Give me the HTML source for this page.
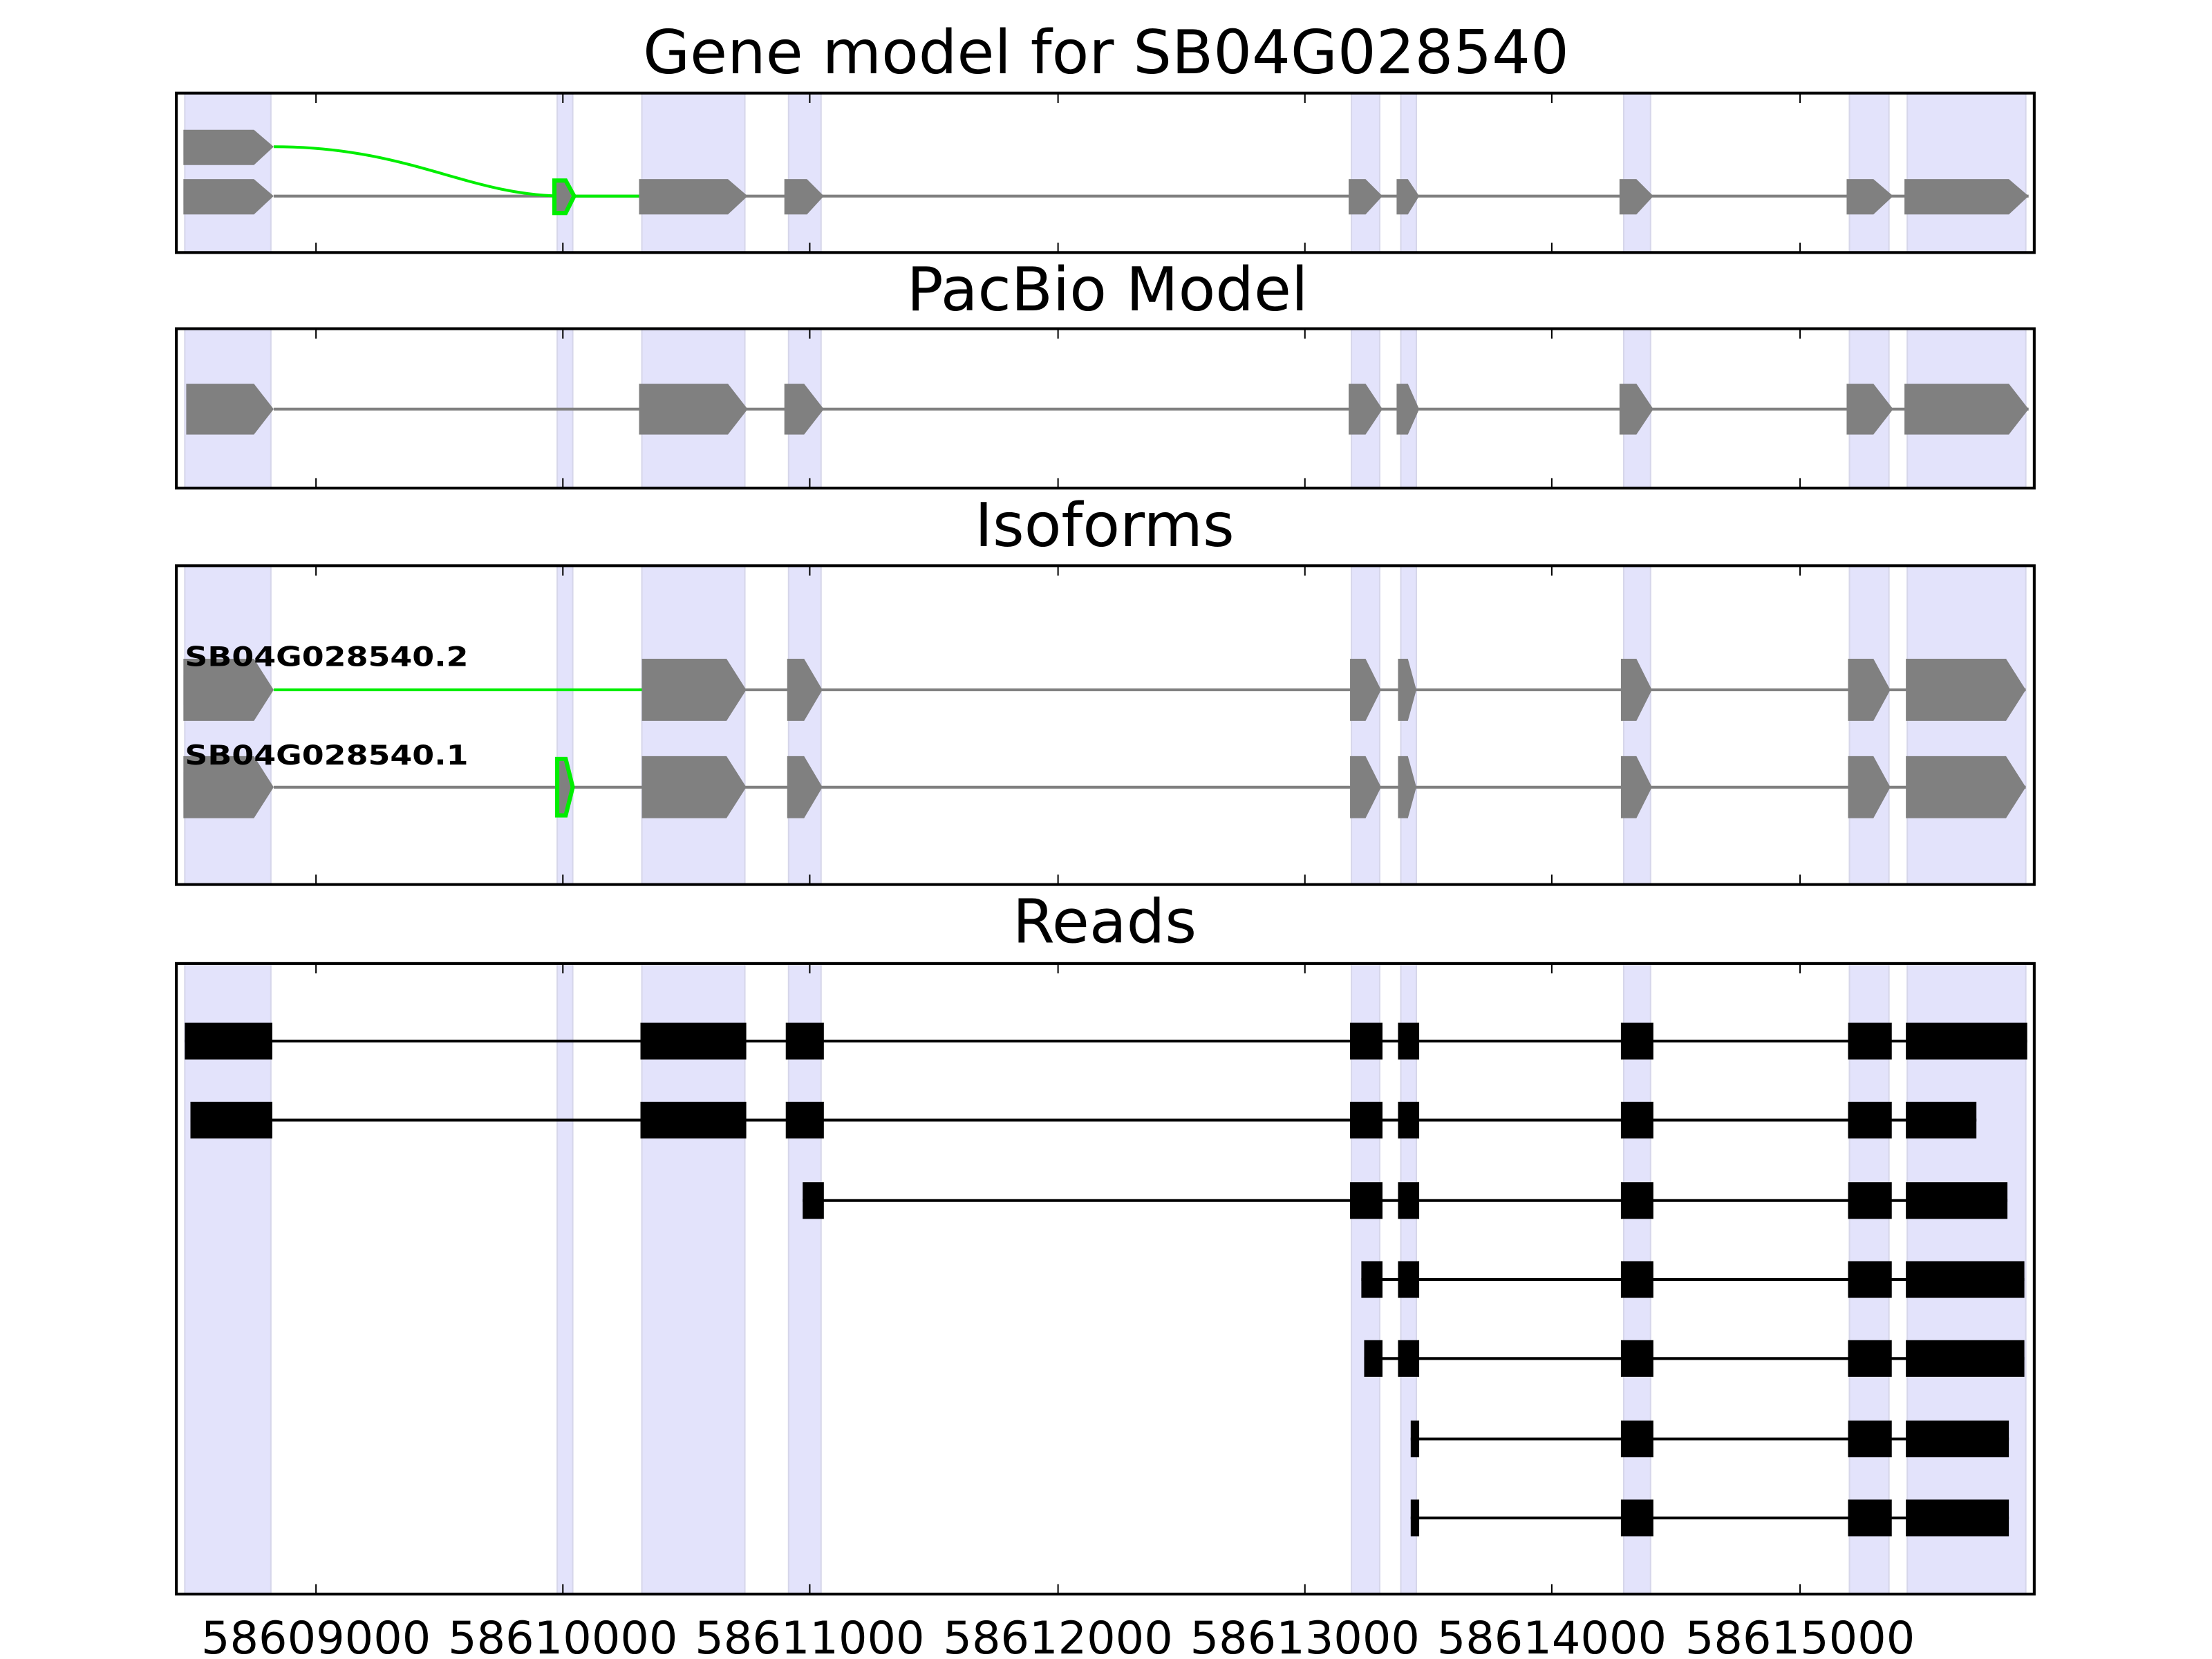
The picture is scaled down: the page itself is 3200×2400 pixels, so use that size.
<!DOCTYPE html>
<html><head><meta charset="utf-8"><style>
html,body{margin:0;padding:0;background:#fff;}
svg{display:block;}
text{font-family:"DejaVu Sans","Liberation Sans",sans-serif;}
</style></head><body>
<svg width="3200" height="2400" viewBox="0 0 1568 1176" preserveAspectRatio="none" xmlns="http://www.w3.org/2000/svg">
<defs>
<g id="shade">
<rect x="131" width="61" height="1200"/><rect x="395" width="11" height="1200"/>
<rect x="455" width="73" height="1200"/><rect x="559" width="23" height="1200"/>
<rect x="958" width="20" height="1200"/><rect x="993" width="11" height="1200"/>
<rect x="1151" width="19" height="1200"/><rect x="1311" width="28" height="1200"/>
<rect x="1352" width="84" height="1200"/>
</g>
<clipPath id="c1"><rect x="125" y="66" width="1317" height="113"/></clipPath>
<clipPath id="c2"><rect x="125" y="233" width="1317" height="113"/></clipPath>
<clipPath id="c3"><rect x="125" y="401" width="1317" height="226"/></clipPath>
<clipPath id="c4"><rect x="125" y="683" width="1317" height="447"/></clipPath>
<g id="ticks" stroke="#000" stroke-width="1">
<line x1="224" y1="0" x2="224" y2="7"/><line x1="399" y1="0" x2="399" y2="7"/>
<line x1="574" y1="0" x2="574" y2="7"/><line x1="750" y1="0" x2="750" y2="7"/>
<line x1="925" y1="0" x2="925" y2="7"/><line x1="1100" y1="0" x2="1100" y2="7"/>
<line x1="1276" y1="0" x2="1276" y2="7"/>
</g>
</defs>

<g fill="#e3e3fb" stroke="#d6d6ea" stroke-width="1">
<use href="#shade" clip-path="url(#c1)"/>
<use href="#shade" clip-path="url(#c2)"/>
<use href="#shade" clip-path="url(#c3)"/>
<use href="#shade" clip-path="url(#c4)"/>
</g>

<g font-size="43" text-anchor="middle">
<text x="784" y="52">Gene model for SB04G028540</text>
<text x="785" y="220">PacBio Model</text>
<text x="783" y="387">Isoforms</text>
<text x="783" y="668">Reads</text>
</g>

<!-- Panel 1 -->
<line x1="194" y1="139" x2="1438" y2="139" stroke="#808080" stroke-width="2"/>
<path d="M194 104 C290 104 330 138 398 139 L453 139" fill="none" stroke="#00ee00" stroke-width="2"/>
<g fill="#808080">
<polygon points="130,92 180,92 194,104 180,117 130,117"/>
<polygon points="130,127 180,127 194,139 180,152 130,152"/>
<polygon points="453,127 516,127 530,139 516,152 453,152"/>
<polygon points="556,127 572,127 584,139 572,152 556,152"/>
<polygon points="956,127 968,127 980,139 968,152 956,152"/>
<polygon points="990,127 998,127 1006,139 998,152 990,152"/>
<polygon points="1148,127 1160,127 1172,139 1160,152 1148,152"/>
<polygon points="1309,127 1328,127 1342,139 1328,152 1309,152"/>
<polygon points="1350,127 1424,127 1438,139 1424,152 1350,152"/>
</g>
<polygon points="393,128 401,128 407,139 401,151 393,151" fill="#808080" stroke="#00ee00" stroke-width="3"/>

<!-- Panel 2 -->
<line x1="194" y1="290" x2="1438" y2="290" stroke="#808080" stroke-width="2"/>
<g fill="#808080">
<polygon points="132,272 180,272 194,290 180,308 132,308"/>
<polygon points="453,272 516,272 530,290 516,308 453,308"/>
<polygon points="556,272 570,272 584,290 570,308 556,308"/>
<polygon points="956,272 968,272 980,290 968,308 956,308"/>
<polygon points="990,272 998,272 1006,290 998,308 990,308"/>
<polygon points="1148,272 1160,272 1172,290 1160,308 1148,308"/>
<polygon points="1309,272 1328,272 1342,290 1328,308 1309,308"/>
<polygon points="1350,272 1424,272 1438,290 1424,308 1350,308"/>
</g>

<!-- Panel 3 -->
<line x1="453" y1="489" x2="1436" y2="489" stroke="#808080" stroke-width="2"/>
<line x1="194" y1="489" x2="455" y2="489" stroke="#00ee00" stroke-width="2"/>
<line x1="194" y1="558" x2="1436" y2="558" stroke="#808080" stroke-width="2"/>
<g fill="#808080">
<polygon points="130,467 180,467 194,489 180,511 130,511"/>
<polygon points="455,467 515,467 529,489 515,511 455,511"/>
<polygon points="558,467 570,467 583,489 570,511 558,511"/>
<polygon points="957,467 968,467 979,489 968,511 957,511"/>
<polygon points="991,467 998,467 1004,489 998,511 991,511"/>
<polygon points="1149,467 1160,467 1171,489 1160,511 1149,511"/>
<polygon points="1310,467 1328,467 1340,489 1328,511 1310,511"/>
<polygon points="1351,467 1422,467 1436,489 1422,511 1351,511"/>
<polygon points="130,536 180,536 194,558 180,580 130,580"/>
<polygon points="455,536 515,536 529,558 515,580 455,580"/>
<polygon points="558,536 570,536 583,558 570,580 558,580"/>
<polygon points="957,536 968,536 979,558 968,580 957,580"/>
<polygon points="991,536 998,536 1004,558 998,580 991,580"/>
<polygon points="1149,536 1160,536 1171,558 1160,580 1149,580"/>
<polygon points="1310,536 1328,536 1340,558 1328,580 1310,580"/>
<polygon points="1351,536 1422,536 1436,558 1422,580 1351,580"/>
</g>
<polygon points="395,538 401,538 406,558 401,578 395,578" fill="#808080" stroke="#00ee00" stroke-width="3"/>
<text x="131" y="472" font-size="19" font-weight="bold" textLength="201" lengthAdjust="spacingAndGlyphs">SB04G028540.2</text>
<text x="131" y="542" font-size="19" font-weight="bold" textLength="201" lengthAdjust="spacingAndGlyphs">SB04G028540.1</text>

<!-- Panel 4 reads -->
<g stroke="#000" stroke-width="2">
<line x1="131" y1="738" x2="1437" y2="738"/>
<line x1="135" y1="794" x2="1401" y2="794"/>
<line x1="569" y1="851" x2="1423" y2="851"/>
<line x1="965" y1="907" x2="1435" y2="907"/>
<line x1="967" y1="963" x2="1435" y2="963"/>
<line x1="1000" y1="1020" x2="1424" y2="1020"/>
<line x1="1000" y1="1076" x2="1424" y2="1076"/>
</g>
<g fill="#000">
<rect x="131" y="725" width="62" height="26"/><rect x="454" y="725" width="75" height="26"/>
<rect x="557" y="725" width="27" height="26"/><rect x="957" y="725" width="23" height="26"/>
<rect x="991" y="725" width="15" height="26"/><rect x="1149" y="725" width="23" height="26"/>
<rect x="1310" y="725" width="31" height="26"/><rect x="1351" y="725" width="86" height="26"/>

<rect x="135" y="781" width="58" height="26"/><rect x="454" y="781" width="75" height="26"/>
<rect x="557" y="781" width="27" height="26"/><rect x="957" y="781" width="23" height="26"/>
<rect x="991" y="781" width="15" height="26"/><rect x="1149" y="781" width="23" height="26"/>
<rect x="1310" y="781" width="31" height="26"/><rect x="1351" y="781" width="50" height="26"/>

<rect x="569" y="838" width="15" height="26"/><rect x="957" y="838" width="23" height="26"/>
<rect x="991" y="838" width="15" height="26"/><rect x="1149" y="838" width="23" height="26"/>
<rect x="1310" y="838" width="31" height="26"/><rect x="1351" y="838" width="72" height="26"/>

<rect x="965" y="894" width="15" height="26"/>
<rect x="991" y="894" width="15" height="26"/><rect x="1149" y="894" width="23" height="26"/>
<rect x="1310" y="894" width="31" height="26"/><rect x="1351" y="894" width="84" height="26"/>

<rect x="967" y="950" width="13" height="26"/>
<rect x="991" y="950" width="15" height="26"/><rect x="1149" y="950" width="23" height="26"/>
<rect x="1310" y="950" width="31" height="26"/><rect x="1351" y="950" width="84" height="26"/>

<rect x="1000" y="1007" width="6" height="26"/><rect x="1149" y="1007" width="23" height="26"/>
<rect x="1310" y="1007" width="31" height="26"/><rect x="1351" y="1007" width="73" height="26"/>

<rect x="1000" y="1063" width="6" height="26"/><rect x="1149" y="1063" width="23" height="26"/>
<rect x="1310" y="1063" width="31" height="26"/><rect x="1351" y="1063" width="73" height="26"/>
</g>

<use href="#ticks" y="66"/><use href="#ticks" transform="translate(0,179) scale(1,-1)"/>
<use href="#ticks" y="233"/><use href="#ticks" transform="translate(0,346) scale(1,-1)"/>
<use href="#ticks" y="401"/><use href="#ticks" transform="translate(0,627) scale(1,-1)"/>
<use href="#ticks" y="683"/><use href="#ticks" transform="translate(0,1130) scale(1,-1)"/>

<g fill="none" stroke="#000" stroke-width="2">
<rect x="125" y="66" width="1317" height="113"/>
<rect x="125" y="233" width="1317" height="113"/>
<rect x="125" y="401" width="1317" height="226"/>
<rect x="125" y="683" width="1317" height="447"/>
</g>

<g font-size="32" text-anchor="middle">
<text x="224" y="1172">58609000</text>
<text x="399" y="1172">58610000</text>
<text x="574" y="1172">58611000</text>
<text x="750" y="1172">58612000</text>
<text x="925" y="1172">58613000</text>
<text x="1100" y="1172">58614000</text>
<text x="1276" y="1172">58615000</text>
</g>
</svg>
</body></html>
